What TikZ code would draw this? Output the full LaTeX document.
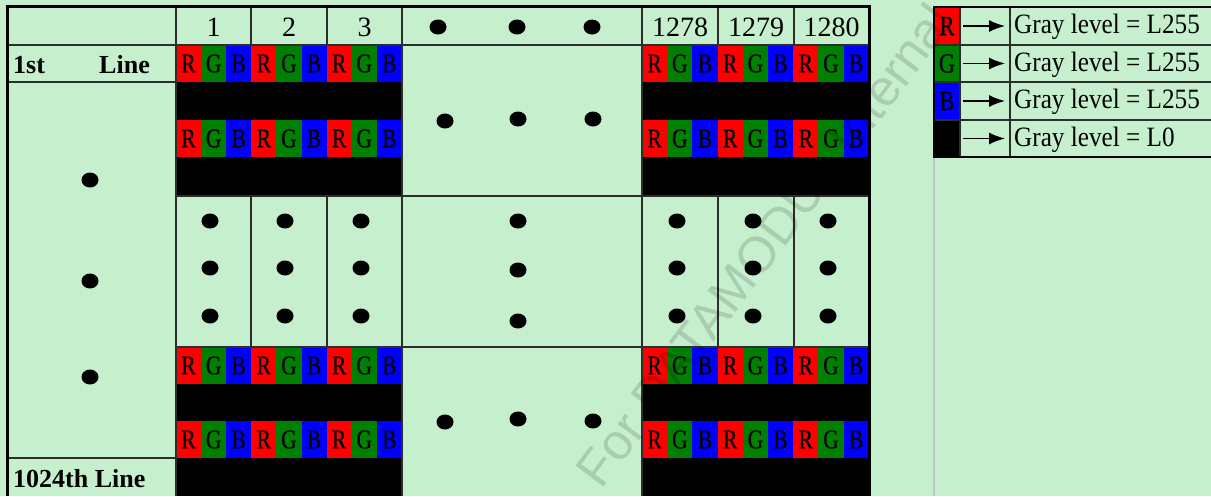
\documentclass[tikz,border=0pt]{standalone}
\usepackage{fontspec}
\setmainfont{Liberation Serif}
\newfontfamily\lgfont[FakeStretch=0.9]{Liberation Serif}
\newfontfamily\pxfont[FakeStretch=0.8,FakeBold=0.6]{Liberation Serif}
\newfontfamily\wmfont{Liberation Sans}
\usetikzlibrary{arrows.meta}
\definecolor{bg}{RGB}{198,239,206}
\definecolor{pr}{RGB}{255,0,0}
\definecolor{pg}{RGB}{0,128,0}
\definecolor{pb}{RGB}{0,0,255}
\definecolor{gridc}{RGB}{45,45,45}
\tikzset{
  pxcell/.style={inner sep=0pt, outer sep=0pt, minimum height=37pt, text=black,
    font=\pxfont\fontsize{27}{27}\selectfont},
  px0/.style={pxcell, fill=pr},
  px1/.style={pxcell, fill=pg},
  px2/.style={pxcell, fill=pb},
  thin/.style={draw=gridc, line width=1.3pt},
  thick/.style={draw=black, line width=3pt},
  hdr/.style={inner sep=0pt, font=\fontsize{28}{28}\selectfont},
  lbl/.style={inner sep=0pt, font=\bfseries\fontsize{26}{26}\selectfont},
  lgtext/.style={inner sep=0pt, anchor=west, font=\lgfont\fontsize{28}{28}\selectfont},
  lgbox/.style={inner sep=0pt, minimum width=26pt, minimum height=37pt, text=black,
    font=\pxfont\fontsize{28}{28}\selectfont},
  lgarrow/.style={draw=black, line width=1.5pt, -{Latex[length=16pt,width=12pt]}},
  bigdot/.style={fill=black}
}
\begin{document}
\begin{tikzpicture}[x=1pt,y=-1pt]
\useasboundingbox (0,0) rectangle (1211,496);
\fill[bg] (0,0) rectangle (1211,496);

% black rows
\foreach \ya/\yb in {82/120,157/196,384/421,458/496}{
  \fill[black] (176,\ya) rectangle (402,\yb);
  \fill[black] (642,\ya) rectangle (869,\yb);
}

% RGB sub-pixel cells
\foreach \row/\yc in {1/63.5,2/138.5,3/365.5,4/439.5}{
  \foreach \blk/\xs/\w in {L/176/25.1,R/642/25.2}{
    \foreach \i in {0,...,8}{
      \pgfmathsetmacro\xc{\xs+\w*\i+\w/2}
      \pgfmathtruncatemacro\k{mod(\i,3)}
      \node[px\k, minimum width=\w pt] (p-\row-\blk-\i) at (\xc,\yc) {\ifcase\k R\or G\or B\fi};
    }
  }
}

% grid lines
\draw[thin] (7,45) -- (869,45);
\foreach \x in {251,327,718,794}{
  \draw[thin] (\x,7) -- (\x,45);
  \draw[thin] (\x,196) -- (\x,347);
}
\draw[thin] (176,7) -- (176,496);
\draw[thin] (402,7) -- (402,496);
\draw[thin] (642,7) -- (642,496);
\draw[thin] (7,82) -- (176,82);
\draw[thin] (7,458) -- (176,458);
\draw[thin] (176,196) -- (869,196);
\draw[thin] (176,347) -- (869,347);
\draw[thick] (7,496) -- (7,6) -- (869,6) -- (869,496);

% header labels
\node[hdr] (h1) at (213.5,27) {1};
\node[hdr] (h2) at (289,27) {2};
\node[hdr] (h3) at (364.5,27) {3};
\node[hdr] (h1278) at (680,27) {1278};
\node[hdr] (h1279) at (756,27) {1279};
\node[hdr] (h1280) at (831.5,27) {1280};

% row labels
\node[lbl, anchor=west] (first) at (13,65) {1st};
\node[lbl, anchor=east] (firstline) at (150,65) {Line};
\node[lbl, anchor=west] (last) at (13,479) {1024th Line};

% dots
\foreach \x/\y in {438/27,517/27,592/27,
                   445/121,518/119,593/119,
                   445/422,518/419,593/421,
                   90/180,90/281,90/377,
                   518/221,518/270,518/321}{
  \fill[bigdot] (\x,\y) ellipse [x radius=8.5pt, y radius=7.5pt];
}
\foreach \x in {210,285,361,677,753,828}{
  \foreach \y in {221,268,316}{
    \fill[bigdot] (\x,\y) ellipse [x radius=8.5pt, y radius=7.5pt];
  }
}

% legend
\draw[gray!45, line width=1.2pt] (934,157) -- (934,496);
\node[lgbox, fill=pr] (k1) at (947,26) {R};
\node[lgbox, fill=pg] (k2) at (947,63.5) {G};
\node[lgbox, fill=pb] (k3) at (947,101) {B};
\node[lgbox, fill=black] (k4) at (947,138.5) {};
\draw[thin] (934,45) -- (1212,45);
\draw[thin] (934,82) -- (1212,82);
\draw[thin] (934,120) -- (1212,120);
\draw[thin] (960,7) -- (960,157);
\draw[thin] (1010,7) -- (1010,157);
\draw[draw=black, line width=2pt] (1213,7) -- (934,7) -- (934,157) -- (1213,157);
\foreach \n/\y in {1/26,2/63.5,3/101,4/138.5}{
  \coordinate (as\n) at (963,\y);
  \coordinate (ae\n) at (1005,\y);
  \draw[lgarrow] (as\n) -- (ae\n);
}
\node[lgtext] (t1) at (1014,27) {Gray level = L255};
\node[lgtext] (t2) at (1014,64.5) {Gray level = L255};
\node[lgtext] (t3) at (1014,102) {Gray level = L255};
\node[lgtext] (t4) at (1014,139.5) {Gray level = L0};

% watermark
\node[rotate=53, text=black, opacity=0.14, font=\wmfont\fontsize{51}{51}\selectfont] (wm) at (764,245) {For DATAMODUL Internal};
\end{tikzpicture}
\end{document}
